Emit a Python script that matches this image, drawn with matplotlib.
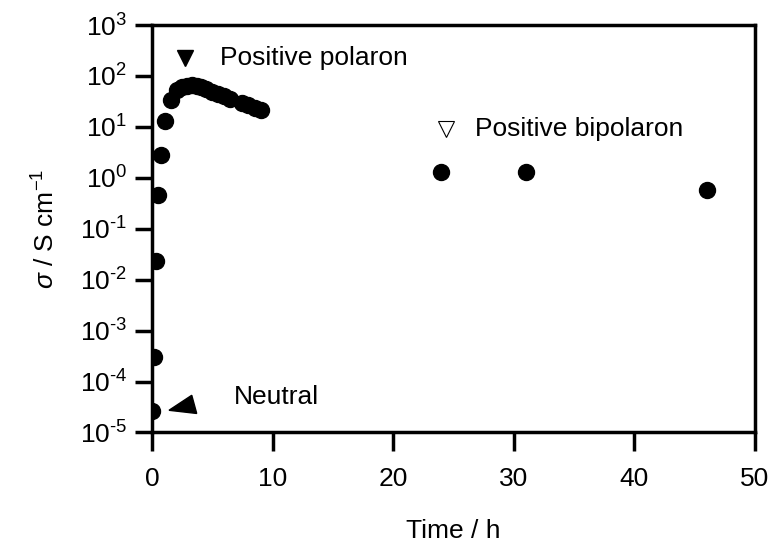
import matplotlib
matplotlib.use("Agg")
import matplotlib.pyplot as plt
from matplotlib.patches import Polygon
from matplotlib.ticker import LogLocator, FuncFormatter, NullLocator
import numpy as np

plt.rcParams['font.family'] = ['Liberation Sans', 'DejaVu Sans']
plt.rcParams['mathtext.fontset'] = 'custom'
plt.rcParams['mathtext.rm'] = 'Liberation Sans'
plt.rcParams['mathtext.it'] = 'Liberation Sans:italic'
plt.rcParams['mathtext.bf'] = 'Liberation Sans:bold'

# data
time_h = [0, 0.17, 0.33, 0.5, 0.75, 1.1, 1.6, 2.1, 2.5, 2.9, 3.3, 3.7, 4.1,
          4.5, 5.0, 5.5, 6.0, 6.5, 7.5, 8.0, 8.5, 9.0, 24, 31, 46]
sigma = [2.6e-5, 3.0e-4, 2.3e-2, 0.46, 2.8, 13, 34, 52, 60, 64, 65, 63, 60,
         55, 49, 44, 40, 36, 30, 27, 24, 21, 1.3, 1.3, 0.57]
xticks = [0, 10, 20, 30, 40, 50]

FS = 19


def log_fmt(v, pos):
    e = int(round(np.log10(v)))
    if e < 0:
        return r'$\mathregular{10^{\text{-}%d}}$' % (-e)
    return r'$\mathregular{10^{%d}}$' % e


fig = plt.figure(figsize=(7.74, 5.52), dpi=100)
ax = fig.add_axes([0.1964, 0.2165, 0.7791, 0.7382])

ax.plot(time_h, sigma, 'o', color='black', markersize=11.5, linestyle='none')
ax.set_yscale('log')
ax.set_xlim(0, 50)
ax.set_ylim(1e-5, 1e3)
ax.set_xticks(xticks)
ax.yaxis.set_major_locator(LogLocator(base=10, numticks=20))
ax.yaxis.set_major_formatter(FuncFormatter(log_fmt))
ax.yaxis.set_minor_locator(NullLocator())

for s in ax.spines.values():
    s.set_linewidth(2.5)
ax.tick_params(axis='y', which='major', direction='out', length=12, width=2.5,
               labelsize=FS, pad=6)
ax.tick_params(axis='x', which='major', direction='out', length=14, width=2.5,
               labelsize=FS, pad=11)

ax.set_xlabel('Time / h', fontsize=FS, labelpad=20)
ax.set_ylabel(r'$\sigma$ / S cm$^{-1}$', fontsize=FS, labelpad=14)

# annotations
ax.plot([2.75], [224], marker='v', color='black', markersize=11, linestyle='none')
ax.text(5.6, 224, 'Positive polaron', fontsize=FS, va='center', ha='left')
ax.plot([24.4], [9.1], marker='v', markerfacecolor='white', markeredgecolor='black',
        markeredgewidth=0.8, markersize=11, linestyle='none')
ax.text(26.8, 9.1, 'Positive bipolaron', fontsize=FS, va='center', ha='left')
ax.text(6.8, 5.0e-5, 'Neutral', fontsize=FS, va='center', ha='left')

# wedge pointing to neutral point (axes fraction coords)
wedge = Polygon([[0.0282, 0.0545], [0.0659, 0.0913], [0.0741, 0.0467]],
                closed=True, facecolor='black', edgecolor='black',
                transform=ax.transAxes)
ax.add_patch(wedge)

fig.savefig('out.png', dpi=100)
